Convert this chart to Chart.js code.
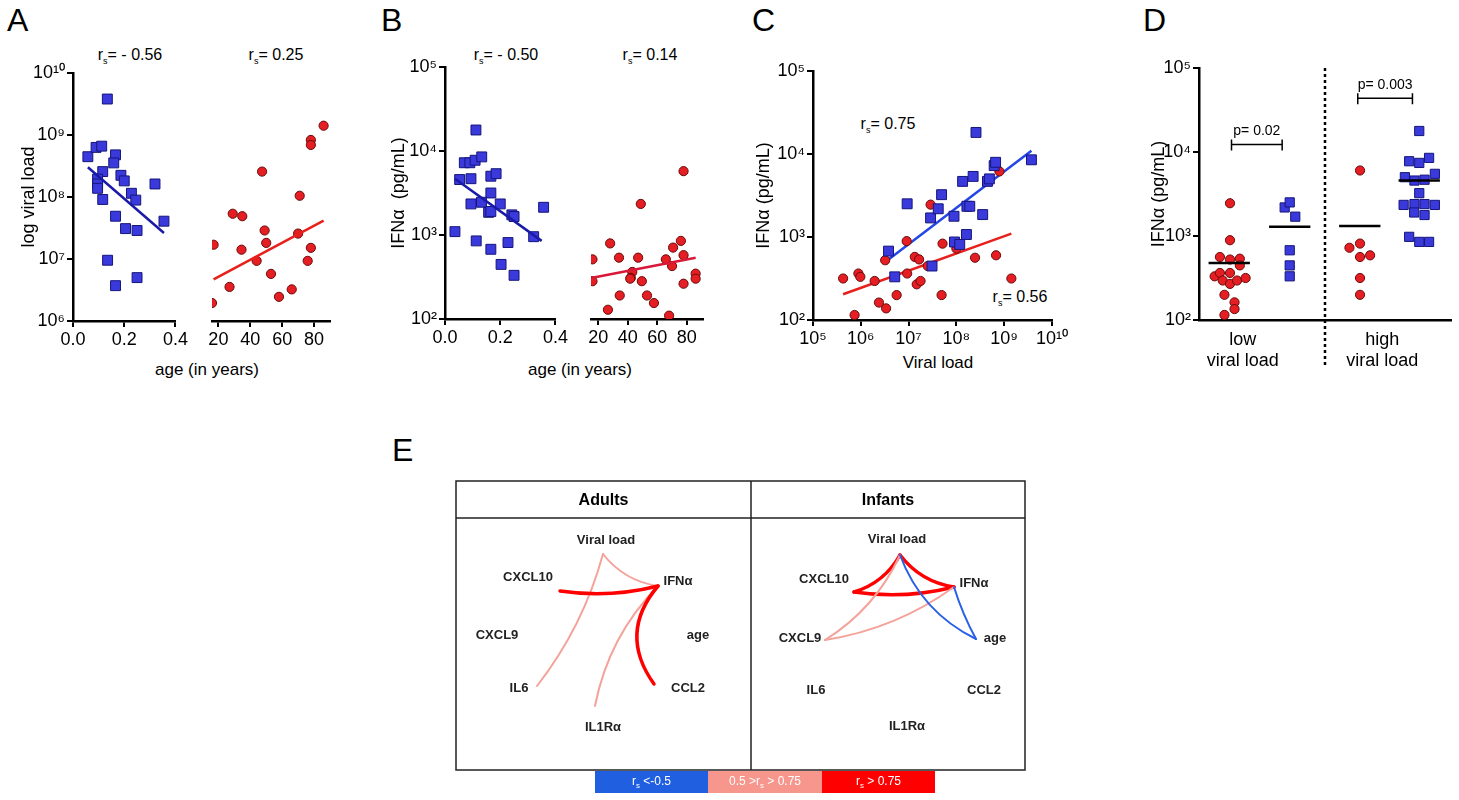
<!DOCTYPE html>
<html>
<head>
<meta charset="utf-8">
<script src="https://cdn.jsdelivr.net/npm/chart.js@4.4.1/dist/chart.umd.min.js"></script>
<style>
  body { margin: 0; background: #fff; width: 1459px; height: 800px; position: relative; overflow: hidden;
         font-family: "Liberation Sans", Arial, sans-serif; color: #000; }
  canvas { position: absolute; }
  .t { position: absolute; white-space: nowrap; transform: translateX(-50%); font-size: 16px; }
  .t sub { font-size: 9px; }
  .letter { position: absolute; font-size: 32px; }
  .xt { position: absolute; white-space: nowrap; transform: translateX(-50%); font-size: 17px; }
</style>
</head>
<body>
<div class="letter" style="left:7px;top:2px">A</div>
<div class="letter" style="left:381px;top:2px">B</div>
<div class="letter" style="left:752px;top:2px">C</div>
<div class="letter" style="left:1143px;top:2px">D</div>
<div class="letter" style="left:392px;top:432px">E</div>

<div class="t" style="left:130px;top:46px">r<sub>s</sub>= - 0.56</div>
<div class="t" style="left:276px;top:46px">r<sub>s</sub>= 0.25</div>
<div class="t" style="left:506px;top:46px">r<sub>s</sub>= - 0.50</div>
<div class="t" style="left:650px;top:46px">r<sub>s</sub>= 0.14</div>
<div class="t" style="left:888px;top:115px">r<sub>s</sub>= 0.75</div>
<div class="t" style="left:1020px;top:288px">r<sub>s</sub>= 0.56</div>

<div class="xt" style="left:207px;top:360px">age (in years)</div>
<div class="xt" style="left:580px;top:360px">age (in years)</div>
<div class="xt" style="left:938px;top:353px">Viral load</div>

<canvas id="aL" style="left:0px;top:60px;width:190px;height:300px"></canvas>
<canvas id="aR" style="left:200px;top:60px;width:140px;height:300px"></canvas>
<canvas id="bL" style="left:372px;top:54px;width:198px;height:300px"></canvas>
<canvas id="bR" style="left:580px;top:54px;width:133px;height:300px"></canvas>
<canvas id="c" style="left:735px;top:58px;width:335px;height:300px"></canvas>
<canvas id="d" style="left:1100px;top:55px;width:359px;height:330px"></canvas>
<canvas id="e" style="left:440px;top:470px;width:600px;height:330px"></canvas>

<script>
// ---- Panel A: viral load vs age (log10 values)
const aInfAge = [0.058,0.09,0.112,0.134,0.166,0.159,0.116,0.096,0.096,0.096,0.187,0.2,0.228,0.245,0.116,0.32,0.355,0.166,0.205,0.25,0.135,0.25,0.166];
const aInfLogVL = [8.65,8.80,8.82,9.58,8.68,8.55,8.41,8.29,8.21,8.14,8.35,8.26,8.06,7.95,7.96,8.21,7.61,7.69,7.49,7.46,6.98,6.70,6.57];
const aInfFitAge = [0.058,0.355], aInfFitLog = [8.48,7.42];
const aAdAge = [16,17,27,29,35,34.5,47.4,49,50,44,53,58,66,71,70,76,78,78,78,86];
const aAdLogVL = [6.29,7.23,6.55,7.73,7.69,7.15,8.41,7.46,7.26,6.97,6.76,6.39,6.51,8.02,7.41,6.97,7.18,8.92,8.84,9.15];
const aAdFitAge = [17,86], aAdFitLog = [6.67,7.62];

// ---- Panel B: IFNa vs age (log10 values)
const bInfAge = [0.036,0.053,0.07,0.09,0.109,0.133,0.112,0.094,0.166,0.185,0.166,0.094,0.132,0.158,0.166,0.2,0.242,0.25,0.113,0.166,0.228,0.203,0.25,0.321,0.357];
const bInfLog = [3.04,3.66,3.86,3.86,3.89,3.93,4.25,3.67,3.70,3.73,3.50,3.37,3.39,3.27,3.28,3.37,3.24,3.22,2.93,2.83,2.91,2.65,2.52,2.98,3.33];
const bInfFitAge = [0.036,0.35], bInfFitLog = [3.67,2.93];
const bAdAge = [16,16,26.5,28,34,34.5,43,42,41.6,47,48.8,49.5,53,57.7,65.8,68,70.7,70,76,77.8,77.8,77.8,86,86];
const bAdLog = [2.71,2.45,2.11,2.90,2.73,2.28,2.56,2.49,2.48,2.73,3.37,2.45,2.28,2.19,2.71,2.04,2.85,2.63,2.93,2.76,2.42,3.76,2.54,2.48];
const bAdFitAge = [16,86], bAdFitLog = [2.49,2.73];

// ---- Panel C: IFNa vs viral load (log10 values)
const cInfLogVL = [6.58,6.71,6.97,7.46,7.49,7.62,7.69,7.95,7.96,8.07,8.13,8.22,8.28,8.21,8.35,8.41,8.55,8.65,8.69,8.79,8.82,9.57];
const cInfLogIFN = [2.83,2.52,3.40,3.23,2.65,3.34,3.51,3.25,2.94,2.91,3.67,3.37,3.37,3.03,3.73,4.26,3.27,3.67,3.70,3.86,3.90,3.93];
const cInfFitVL = [6.58,9.57], cInfFitIFN = [2.73,4.04];
const cAdLogVL = [5.63,5.87,5.95,5.99,6.29,6.38,6.53,6.51,6.75,6.96,6.97,7.13,7.22,7.17,7.25,7.4,7.46,7.69,7.71,8.0,8.39,8.83,8.9,9.15];
const cAdLogIFN = [2.50,2.06,2.56,2.52,2.47,2.21,2.14,2.72,2.30,2.95,2.56,2.76,2.73,2.43,2.47,2.65,3.39,2.30,2.92,2.86,2.75,2.78,3.79,2.50];
const cAdFitVL = [5.63,9.15], cAdFitIFN = [2.31,3.04];

// ---- Panel D: IFNa by viral load group (x = jittered group position)
const dLowAdX = [1.23,1.23,0.83,1.23,1.62,1.62,0.62,0.83,1.23,0.94,1.23,1.51,1.85,1.01,1.41,1.41,1.01];
const dLowAdLog = [3.39,2.95,2.75,2.72,2.73,2.65,2.52,2.56,2.56,2.47,2.43,2.47,2.50,2.30,2.21,2.13,2.06];
const dLowInfX = [3.40,3.6,3.82,3.6,3.6,3.6];
const dLowInfLog = [3.34,3.40,3.23,2.83,2.65,2.52];
const dHighAdX = [6.39,5.97,6.39,6.39,6.79,6.39,6.39];
const dHighAdLog = [3.78,2.86,2.91,2.75,2.77,2.50,2.30];
const dHighInfX = [8.74,8.34,8.74,9.13,9.36,8.17,8.55,8.95,8.74,8.12,8.55,8.95,9.36,8.54,8.95,8.34,8.74,9.13];
const dHighInfLog = [4.25,3.89,3.87,3.93,3.74,3.70,3.66,3.67,3.51,3.37,3.38,3.38,3.37,3.28,3.25,2.99,2.93,2.93];
const dGroupX = [1.2,3.6,6.38,8.74];
const dGroupMeanLog = [2.68,3.11,3.12,3.66];
const dGroupLabelX = [1.74,7.27];
const dGroupLabels = [["low","viral load"],["high","viral load"]];
const dDivider = 5;
const pText = ["p= 0.02","p= 0.003"], pFrom = [1.29,6.3], pTo = [3.30,8.47], pLog = [4.09,4.64];

// ---- Panel E: correlation networks
const eNodes = ["Viral load","CXCL10","IFN\u03b1","CXCL9","age","IL6","CCL2","IL1R\u03b1"];
const eAdultLabel = [[606,540],[528,577],[678,581],[497,635],[698,635],[519,688],[688,688],[603,727]];
const eAdultAnchor = [[603,554],[560,591],[658,586],[520,640],[680,640],[537,686],[654,684],[595,706]];
const eInfLabel = [[897,539],[824,579],[974,583],[800,638],[995,638],[816,690],[984,690],[907,726]];
const eInfAnchor = [[900,555],[854,592],[954,587],[825,640],[976,639],[830,685],[970,685],[907,712]];
// [from, to, class(0 blue,1 light,2 red), bend]
const eAdultEdges = [[0,5,1,-0.1],[0,2,1,0.2],[1,2,2,0.1],[7,2,1,-0.15],[6,2,2,-0.39]];
const eInfEdges = [[0,1,2,-0.2],[0,2,2,0.2],[1,2,2,0.1],[0,3,1,-0.15],[2,3,1,-0.12],[0,4,0,0.2],[2,4,0,0.05]];
const eLegend = [["r","s"," <-0.5"],["0.5 >r","s"," > 0.75"],["r","s"," > 0.75"]];

const BLUE = "#3a3adc", BLUE_EDGE = "#15157a", RED = "#e41e22", RED_EDGE = "#6a0a0a";
const FONT = "'Liberation Sans', Arial, sans-serif";
const SUP = { "0":"\u2070","1":"\u00b9","2":"\u00b2","3":"\u00b3","4":"\u2074","5":"\u2075","6":"\u2076","7":"\u2077","8":"\u2078","9":"\u2079" };
const pow10Label = (v) => "10" + String(Math.round(Math.log10(v))).split("").map(c => SUP[c]).join("");
const pts = (xs, ys, logX) => xs.map((x, i) => ({ x: logX ? Math.pow(10, x) : x, y: Math.pow(10, ys[i]) }));

const squares = (data) => ({ data, pointStyle: "rect", pointRadius: 7, pointHoverRadius: 7,
  backgroundColor: BLUE, borderColor: BLUE_EDGE, borderWidth: 1, showLine: false });
const circles = (data) => ({ data, pointStyle: "circle", pointRadius: 4.6, pointHoverRadius: 4.6,
  backgroundColor: RED, borderColor: RED_EDGE, borderWidth: 1, showLine: false });
const fitLine = (data, color) => ({ data, showLine: true, pointRadius: 0, borderColor: color, borderWidth: 2.5, fill: false });

const axisBase = {
  grid: { display: true, drawOnChartArea: false, drawTicks: true, tickLength: 6, color: "#000", lineWidth: 2 },
  border: { display: true, color: "#000", width: 2.5 },
  ticks: { color: "#000", font: { family: FONT, size: 18 }, padding: 2, maxRotation: 0, autoSkip: false }
};

function scatter(id, datasets, o) {
  const x = Object.assign({}, axisBase, {
    type: o.xType || "linear", min: o.xmin, max: o.xmax,
    afterFit: (s) => { s.height = o.xh; }
  });
  x.ticks = Object.assign({}, axisBase.ticks, o.xTicks || {});
  if (o.xValues) x.afterBuildTicks = (s) => { s.ticks = o.xValues.map(v => ({ value: v })); };
  if (o.xGrid) x.grid = o.xGrid;
  const y = Object.assign({}, axisBase, {
    type: "logarithmic", min: o.ymin, max: o.ymax, display: o.showY !== false,
    afterFit: (s) => { s.width = o.yw; },
    afterBuildTicks: (s) => { s.ticks = o.yValues.map(v => ({ value: v })); }
  });
  y.ticks = Object.assign({}, axisBase.ticks, { callback: pow10Label });
  if (o.yTitle) y.title = { display: true, text: o.yTitle, color: "#000", font: { family: FONT, size: 18 }, padding: { top: o.yTitlePad || 0, bottom: 0 } };
  return new Chart(document.getElementById(id), {
    type: "scatter",
    data: { datasets },
    options: {
      responsive: false, animation: false, events: [],
      layout: { padding: { top: o.pt, right: o.pr, left: o.pl || 0, bottom: 0 } },
      plugins: { legend: { display: false }, tooltip: { enabled: false } },
      scales: { x, y }
    },
    plugins: o.plugins || []
  });
}

const fixed1 = { callback: (v) => v.toFixed(1) };

// A
scatter("aL", [fitLine(pts(aInfFitAge, aInfFitLog), "#1a1aa8"), squares(pts(aInfAge, aInfLogVL))],
  { xmin: 0, xmax: 0.4, xTicks: fixed1, xValues: [0, 0.2, 0.4],
    ymin: 1e6, ymax: 1e10, yValues: [1e6,1e7,1e8,1e9,1e10], yw: 73, xh: 39, pt: 13, pr: 6, yTitle: "log viral load", yTitlePad: 18 });
scatter("aR", [fitLine(pts(aAdFitAge, aAdFitLog), "#e8201c"), circles(pts(aAdAge, aAdLogVL))],
  { xmin: 16, xmax: 90, xValues: [20,40,60,80], ymin: 1e6, ymax: 1e10, yValues: [1e6], showY: false,
    yw: 0, xh: 39, pt: 13, pr: 10, pl: 12 });

// B
scatter("bL", [fitLine(pts(bInfFitAge, bInfFitLog), "#1a1aa8"), squares(pts(bInfAge, bInfLog))],
  { xmin: 0, xmax: 0.4, xTicks: fixed1, xValues: [0, 0.2, 0.4],
    ymin: 1e2, ymax: 1e5, yValues: [1e2,1e3,1e4,1e5], yw: 73, xh: 35, pt: 13, pr: 6, yTitle: "IFN\u03b1  (pg/mL)", yTitlePad: 16 });
scatter("bR", [fitLine(pts(bAdFitAge, bAdFitLog), "#d81838"), circles(pts(bAdAge, bAdLog))],
  { xmin: 15, xmax: 91, xValues: [20,40,60,80], ymin: 1e2, ymax: 1e5, yValues: [1e2], showY: false,
    yw: 0, xh: 35, pt: 13, pr: 10, pl: 11 });

// C
scatter("c", [squares(pts(cInfLogVL, cInfLogIFN, true)), circles(pts(cAdLogVL, cAdLogIFN, true)),
  fitLine(pts(cInfFitVL, cInfFitIFN, true), "#2546e6"), fitLine(pts(cAdFitVL, cAdFitIFN, true), "#e8201c")],
  { xType: "logarithmic", xmin: 1e5, xmax: 1e10, xValues: [1e5,1e6,1e7,1e8,1e9,1e10], xTicks: { callback: pow10Label },
    ymin: 1e2, ymax: 1e5, yValues: [1e2,1e3,1e4,1e5], yw: 78, xh: 38, pt: 13, pr: 7, yTitle: "IFN\u03b1 (pg/mL)", yTitlePad: 18 });

// D
const dExtras = {
  id: "dExtras",
  afterDatasetsDraw(chart) {
    const { ctx, scales: { x, y }, chartArea } = chart;
    ctx.save();
    ctx.strokeStyle = "#000";
    // divider
    ctx.setLineDash([3, 3]); ctx.lineWidth = 2.5;
    ctx.beginPath(); ctx.moveTo(x.getPixelForValue(dDivider), chartArea.top); ctx.lineTo(x.getPixelForValue(dDivider), chartArea.bottom + 48); ctx.stroke();
    ctx.setLineDash([]);
    // means
    ctx.lineWidth = 2.5;
    dGroupX.forEach((gx, i) => {
      const py = y.getPixelForValue(Math.pow(10, dGroupMeanLog[i]));
      ctx.beginPath(); ctx.moveTo(x.getPixelForValue(gx - 0.82), py); ctx.lineTo(x.getPixelForValue(gx + 0.82), py); ctx.stroke();
    });
    // p brackets
    ctx.lineWidth = 1.5; ctx.fillStyle = "#000"; ctx.font = "14px " + FONT; ctx.textAlign = "center";
    pText.forEach((t, i) => {
      const x0 = x.getPixelForValue(pFrom[i]), x1 = x.getPixelForValue(pTo[i]), py = y.getPixelForValue(Math.pow(10, pLog[i]));
      ctx.beginPath();
      ctx.moveTo(x0, py); ctx.lineTo(x1, py);
      ctx.moveTo(x0, py - 5); ctx.lineTo(x0, py + 6);
      ctx.moveTo(x1, py - 5); ctx.lineTo(x1, py + 6);
      ctx.stroke();
      ctx.fillText(t, (x0 + x1) / 2, py - 9);
    });
    ctx.restore();
  }
};
const dDatasets = [circles(pts(dLowAdX, dLowAdLog)), squares(pts(dLowInfX, dLowInfLog)),
  circles(pts(dHighAdX, dHighAdLog)), squares(pts(dHighInfX, dHighInfLog))];
dDatasets.forEach(d => { if (d.pointStyle === "rect") d.pointRadius = 6.5; });
scatter("d", dDatasets,
  { xmin: 0, xmax: 10, xValues: dGroupLabelX,
    xTicks: { callback: (v, i) => dGroupLabels[i], padding: 9 },
    xGrid: { display: false, drawTicks: false },
    ymin: 1e2, ymax: 1e5, yValues: [1e2,1e3,1e4,1e5], yw: 99, xh: 65, pt: 13, pr: 7, yTitle: "IFN\u03b1 (pg/mL)", yTitlePad: 48,
    plugins: [dExtras] });

// E
const EDGE_COLORS = ["#2a5fe8", "#f4a39b", "#ff0000"];
const EDGE_WIDTH = [2, 2, 3.5];
const LEGEND_FILL = ["#1f5fe0", "#f6968c", "#ff0000"];
const eNetwork = {
  id: "eNetwork",
  afterDatasetsDraw(chart) {
    const { ctx, scales: { x, y } } = chart;
    const P = (p) => [x.getPixelForValue(p[0]), y.getPixelForValue(p[1])];
    ctx.save();
    // frame
    const [l, t] = P([456, 481]), [r, b] = P([1025, 770]);
    const [mx, hy] = P([751, 518]);
    ctx.strokeStyle = "#222"; ctx.lineWidth = 1.5;
    ctx.strokeRect(l, t, r - l, b - t);
    ctx.beginPath(); ctx.moveTo(mx, t); ctx.lineTo(mx, b); ctx.moveTo(l, hy); ctx.lineTo(r, hy); ctx.stroke();
    ctx.fillStyle = "#000"; ctx.textAlign = "center"; ctx.textBaseline = "middle";
    ctx.font = "bold 16px " + FONT;
    ctx.fillText("Adults", (l + mx) / 2, (t + hy) / 2 + 1);
    ctx.fillText("Infants", (mx + r) / 2, (t + hy) / 2 + 1);
    // edges
    const drawEdges = (edges, anchors) => edges.forEach(([a, bIdx, cls, bend]) => {
      const [x0, y0] = P(anchors[a]), [x1, y1] = P(anchors[bIdx]);
      const dx = x1 - x0, dy = y1 - y0;
      const cx = (x0 + x1) / 2 - dy * bend, cy = (y0 + y1) / 2 + dx * bend;
      ctx.strokeStyle = EDGE_COLORS[cls]; ctx.lineWidth = EDGE_WIDTH[cls]; ctx.lineCap = "round";
      ctx.beginPath(); ctx.moveTo(x0, y0); ctx.quadraticCurveTo(cx, cy, x1, y1); ctx.stroke();
    });
    drawEdges(eAdultEdges, eAdultAnchor);
    drawEdges(eInfEdges, eInfAnchor);
    // node labels
    ctx.fillStyle = "#222"; ctx.font = "bold 13px " + FONT;
    const drawLabels = (pos) => eNodes.forEach((n, i) => { const [px, py] = P(pos[i]); ctx.fillText(n, px, py); });
    drawLabels(eAdultLabel); drawLabels(eInfLabel);
    // legend bar
    const segs = [[595, 708], [708, 822], [822, 935]];
    segs.forEach(([s0, s1], i) => {
      const [a0, ty] = P([s0, 771]), [a1, by] = P([s1, 793]);
      ctx.fillStyle = LEGEND_FILL[i];
      ctx.fillRect(a0, ty, a1 - a0, by - ty);
      const [pre, sub, post] = eLegend[i];
      ctx.font = "12px " + FONT;
      const w1 = ctx.measureText(pre).width, w3 = ctx.measureText(post).width;
      ctx.font = "8px " + FONT; const w2 = ctx.measureText(sub).width;
      let cx = (a0 + a1) / 2 - (w1 + w2 + w3) / 2, cy = (ty + by) / 2;
      ctx.fillStyle = "#fff"; ctx.textAlign = "left";
      ctx.font = "12px " + FONT; ctx.fillText(pre, cx, cy); cx += w1;
      ctx.font = "8px " + FONT; ctx.fillText(sub, cx, cy + 4); cx += w2;
      ctx.font = "12px " + FONT; ctx.fillText(post, cx, cy);
      ctx.textAlign = "center";
    });
    ctx.restore();
  }
};
new Chart(document.getElementById("e"), {
  type: "scatter",
  data: { datasets: [{ data: eAdultAnchor.concat(eInfAnchor).map(p => ({ x: p[0], y: p[1] })), pointRadius: 0 }] },
  options: {
    responsive: false, animation: false, events: [],
    layout: { padding: 0 },
    plugins: { legend: { display: false }, tooltip: { enabled: false } },
    scales: {
      x: { type: "linear", min: 440, max: 1040, display: false },
      y: { type: "linear", min: 470, max: 800, reverse: true, display: false }
    }
  },
  plugins: [eNetwork]
});
</script>
</body>
</html>
